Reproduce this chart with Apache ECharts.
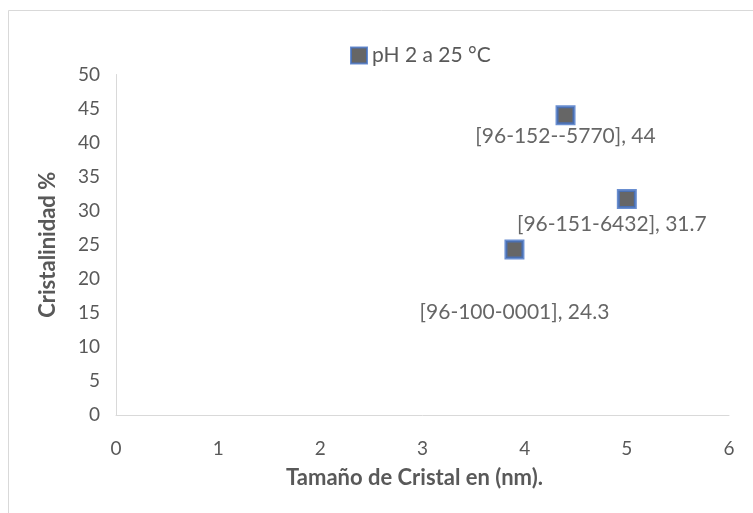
<!DOCTYPE html>
<html>
<head>
<meta charset="utf-8">
<script src="https://cdn.jsdelivr.net/npm/echarts@6/dist/echarts.min.js"></script>
<style>
html,body{margin:0;padding:0;background:#fff;}
#chart{width:753px;height:513px;}
</style>
</head>
<body>
<div id="chart"></div>
<script>
var seriesName = 'pH 2 a 25 °C';
var xValues = [4.4, 5.0, 3.9];
var yValues = [44, 31.7, 24.3];
var pointCodes = ['[96-152--5770]', '[96-151-6432]', '[96-100-0001]'];
var xTicks = [0, 1, 2, 3, 4, 5, 6];
var yTicks = [0, 5, 10, 15, 20, 25, 30, 35, 40, 45, 50];
var labelOffsets = [[0, 21], [-15, 25], [0, 63]];

var FONT = 'Lato, "Open Sans", sans-serif';
var data = xValues.map(function (x, i) {
  return {
    value: [x, yValues[i]],
    label: {
      show: true,
      position: 'inside',
      offset: labelOffsets[i],
      formatter: pointCodes[i] + ', ' + yValues[i]
    }
  };
});

var chart = echarts.init(document.getElementById('chart'));
chart.setOption({
  backgroundColor: '#fff',
  animation: false,
  textStyle: { fontFamily: FONT },
  graphic: [{
    type: 'rect',
    shape: { x: 8.5, y: 10.5, width: 900, height: 700 },
    style: { fill: 'none', stroke: '#d9d9d9', lineWidth: 1 },
    silent: true
  }],
  legend: {
    data: [seriesName],
    left: 350,
    top: 45,
    padding: 0,
    itemWidth: 16,
    itemHeight: 16,
    itemGap: 5,
    textStyle: { fontFamily: FONT, fontSize: 21, color: '#595959', padding: [0, 0, 0, 0] }
  },
  grid: { left: 116, right: 24, top: 74.5, bottom: 98 },
  xAxis: {
    type: 'value',
    min: xTicks[0],
    max: xTicks[xTicks.length - 1],
    interval: 1,
    name: 'Tamaño de Cristal en (nm).',
    nameLocation: 'middle',
    nameGap: 52,
    nameTextStyle: { fontFamily: FONT, fontSize: 22, fontWeight: 'bold', color: '#595959', padding: [0, 16, 0, 0] },
    axisLine: { show: true, lineStyle: { color: '#d9d9d9', width: 1 } },
    axisTick: { show: false },
    splitLine: { show: false },
    axisLabel: { fontFamily: FONT, fontSize: 19, color: '#595959', margin: 24 }
  },
  yAxis: {
    type: 'value',
    min: yTicks[0],
    max: yTicks[yTicks.length - 1],
    interval: 5,
    name: 'Cristalinidad %',
    nameLocation: 'middle',
    nameGap: 57,
    nameTextStyle: { fontFamily: FONT, fontSize: 22, fontWeight: 'bold', color: '#595959' },
    axisLine: { show: true, lineStyle: { color: '#d9d9d9', width: 1 } },
    axisTick: { show: false },
    splitLine: { show: false },
    axisLabel: { fontFamily: FONT, fontSize: 19, color: '#595959', margin: 16 }
  },
  series: [{
    name: seriesName,
    type: 'scatter',
    symbol: 'rect',
    symbolSize: 17,
    itemStyle: { color: '#404040', borderColor: '#4472C4', borderWidth: 3 },
    label: { fontFamily: FONT, fontSize: 21, color: '#404040' },
    data: data
  }]
});
</script>
</body>
</html>
